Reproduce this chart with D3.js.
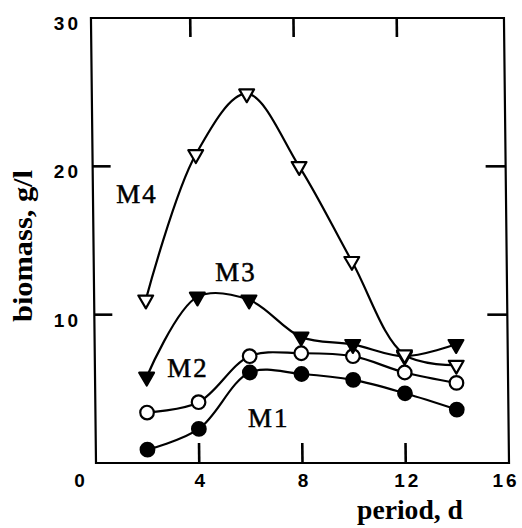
<!DOCTYPE html>
<html>
<head>
<meta charset="utf-8">
<script src="https://cdn.jsdelivr.net/npm/d3@7"></script>
<style>
  html, body { margin: 0; padding: 0; background: #fff; }
  svg { display: block; }
</style>
</head>
<body>
<svg id="chart" width="522" height="528"></svg>
<script>
// Biomass (g/l) over the cultivation period (days) for media M1–M4
const periods = [2, 4, 6, 8, 10, 12, 14];
const m1 = [0.9, 2.3, 6.1, 6.0, 5.6, 4.7, 3.6];
const m2 = [3.4, 4.1, 7.2, 7.4, 7.2, 6.1, 5.4];
const m3 = [5.8, 11.2, 11.0, 8.5, 8.0, 7.2, 8.0];
const m4 = [11.0, 20.8, 24.9, 20.0, 13.6, 7.3, 6.6];

const xTicks = [0, 4, 8, 12, 16];
const yTicks = [10, 20, 30];
const innerXTicks = [4, 8, 12];
const innerYTicks = [10, 20];

const svg = d3.select("#chart");
const x = d3.scaleLinear().domain([0, 16]).range([96, 509]);
const y = d3.scaleLinear().domain([0, 30]).range([463, 18]);

const sans = "'Liberation Sans', Arial, sans-serif";
const serif = "'Liberation Serif', 'Times New Roman', serif";

// plot area, slightly sheared like the printed original
const base = y(0);
const shearDeg = 0.65;
const shear = Math.tan(shearDeg * Math.PI / 180);
const plot = svg.append("g")
  .attr("transform", `translate(0,${base}) skewX(${shearDeg}) translate(0,${-base})`);

// frame
plot.append("rect")
  .attr("x", x(0)).attr("y", y(30))
  .attr("width", x(16) - x(0)).attr("height", y(0) - y(30))
  .attr("fill", "none").attr("stroke", "#000").attr("stroke-width", 2.2);

// inward ticks on all four sides (shear applied to their end points)
const tickLen = 20;
const sx = (px, py) => px + shear * (py - base);
const tickSegs = [];
innerXTicks.forEach(d => {
  tickSegs.push([x(d), y(0), x(d), y(0) - tickLen]);
  tickSegs.push([x(d) - 4, y(30), x(d) - 4, y(30) + tickLen - 1]);
});
innerYTicks.forEach(d => {
  tickSegs.push([x(0), y(d), x(0) + tickLen - 2, y(d)]);
  tickSegs.push([x(16), y(d), x(16) - tickLen, y(d)]);
});
const ticks = svg.append("g").attr("id", "frame-ticks");
tickSegs.forEach(s => {
  ticks.append("line")
    .attr("x1", sx(s[0], s[1])).attr("y1", s[1])
    .attr("x2", sx(s[2], s[3])).attr("y2", s[3])
    .style("stroke", "#000").style("stroke-width", "2.6px");
});

// tick labels
svg.append("g").selectAll("text").data(yTicks).enter().append("text")
  .attr("x", 81).attr("y", d => y(d) + 12)
  .attr("text-anchor", "end")
  .attr("font-family", sans).attr("font-weight", "bold")
  .attr("font-size", 19).attr("letter-spacing", 3)
  .text(d => d);
svg.append("g").selectAll("text").data(xTicks).enter().append("text")
  .attr("x", d => (d === 0 ? x(d) - 15 : d === 16 ? x(d) - 3 : x(d) + 2))
  .attr("y", 487)
  .attr("text-anchor", "middle")
  .attr("font-family", sans).attr("font-weight", "bold")
  .attr("font-size", 19).attr("letter-spacing", 3)
  .text(d => d);

// axis titles
svg.append("text")
  .attr("x", 357).attr("y", 519)
  .attr("font-family", serif).attr("font-weight", "bold")
  .attr("font-size", 28)
  .attr("textLength", 106).attr("lengthAdjust", "spacingAndGlyphs")
  .text("period, d");
svg.append("text")
  .attr("transform", "translate(32,322) rotate(-90)")
  .attr("font-family", serif).attr("font-weight", "bold")
  .attr("font-size", 27)
  .attr("textLength", 152).attr("lengthAdjust", "spacingAndGlyphs")
  .text("biomass, g/l");

// series
const series = [
  { name: "M1", values: m1, marker: "circle", fill: "#000" },
  { name: "M2", values: m2, marker: "circle", fill: "#fff" },
  { name: "M3", values: m3, marker: "triangle", fill: "#000" },
  { name: "M4", values: m4, marker: "triangle", fill: "#fff" }
];

const line = d3.line()
  .x(d => x(d[0])).y(d => y(d[1]))
  .curve(d3.curveCatmullRom.alpha(0.5));

series.forEach(s => {
  const pts = periods.map((p, i) => [p, s.values[i]]);
  plot.append("path")
    .attr("d", line(pts))
    .attr("fill", "none").attr("stroke", "#000").attr("stroke-width", 2.2);
});

const tri = d3.symbol().type(d3.symbolTriangle).size(95);
series.forEach(s => {
  const pts = periods.map((p, i) => [p, s.values[i]]);
  const g = plot.append("g");
  if (s.marker === "circle") {
    g.selectAll("circle").data(pts).enter().append("circle")
      .attr("cx", d => x(d[0])).attr("cy", d => y(d[1]))
      .attr("r", 6.8)
      .attr("fill", s.fill).attr("stroke", "#000").attr("stroke-width", 2.2);
  } else {
    g.selectAll("path").data(pts).enter().append("path")
      .attr("d", tri)
      .attr("transform", d => `translate(${x(d[0])},${y(d[1])}) rotate(180)`)
      .attr("fill", s.fill).attr("stroke", "#000").attr("stroke-width", 2.2)
      .attr("stroke-linejoin", "round");
  }
});

// series labels
const labelPos = [
  { name: "M1", px: 5.9, py: 2.4 },
  { name: "M2", px: 2.8, py: 5.8 },
  { name: "M3", px: 4.7, py: 12.3 },
  { name: "M4", px: 0.9, py: 17.5 }
];
plot.append("g").selectAll("text").data(labelPos).enter().append("text")
  .attr("x", d => x(d.px)).attr("y", d => y(d.py))
  .attr("font-family", serif).attr("font-size", 27)
  .attr("letter-spacing", 2)
  .attr("stroke", "#000").attr("stroke-width", 0.5)
  .text(d => d.name);
</script>
</body>
</html>
